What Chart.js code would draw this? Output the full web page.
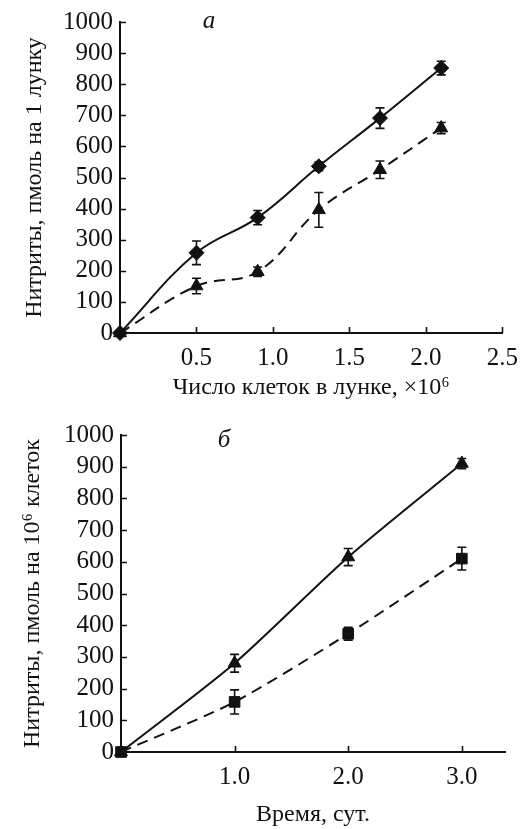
<!DOCTYPE html>
<html>
<head>
<meta charset="utf-8">
<script src="https://cdn.jsdelivr.net/npm/chart.js@4/dist/chart.umd.min.js"></script>
<style>
    html, body { margin: 0; padding: 0; background: #fff; }
    #wrap { position: relative; width: 528px; height: 829px; }
    canvas { position: absolute; left: 0; }
    #chartA { top: 0; }
    #chartB { top: 405px; }
</style>
</head>
<body>
<div id="wrap">
    <canvas id="chartA" width="528" height="405"></canvas>
    <canvas id="chartB" width="528" height="424"></canvas>
</div>
<script>
// panel a: nitrites per well vs number of cells
const cellsA = [0, 0.5, 0.9, 1.3, 1.7, 2.1];
const diamondA = [0, 258, 371, 536, 691, 852];
const diamondErrA = [0, 38, 23, 14, 33, 22];
const triangleA = [0, 151, 197, 396, 525, 659];
const triangleErrA = [0, 25, 15, 56, 28, 18];
const xTicksA = [0.5, 1.0, 1.5, 2.0, 2.5];

// panel b: nitrites per 10^6 cells vs time
const daysB = [0, 1, 2, 3];
const triangleB = [0, 280, 615, 910];
const triangleErrB = [0, 28, 27, 16];
const squareB = [0, 158, 373, 610];
const squareErrB = [0, 38, 20, 36];
const xTicksB = [1.0, 2.0, 3.0];

const yTicks = [0, 100, 200, 300, 400, 500, 600, 700, 800, 900, 1000];

const ink = '#111';
const serif = "'Liberation Serif', 'DejaVu Serif', serif";

function toPoints(xs, ys) {
    return xs.map((x, i) => ({ x: x, y: ys[i] }));
}

const errorBarsPlugin = {
    id: 'errorBars',
    beforeDatasetsDraw(chart) {
        const ctx = chart.ctx;
        const xs = chart.scales.x;
        const ys = chart.scales.y;
        ctx.save();
        ctx.strokeStyle = ink;
        ctx.lineWidth = 1.6;
        chart.data.datasets.forEach((ds) => {
            if (!ds.errors) {
                return;
            }
            ds.data.forEach((p, i) => {
                const e = ds.errors[i];
                if (!e) {
                    return;
                }
                const px = xs.getPixelForValue(p.x);
                const top = ys.getPixelForValue(p.y + e);
                const bot = ys.getPixelForValue(p.y - e);
                ctx.beginPath();
                ctx.moveTo(px, top);
                ctx.lineTo(px, bot);
                ctx.moveTo(px - 4.5, top);
                ctx.lineTo(px + 4.5, top);
                ctx.moveTo(px - 4.5, bot);
                ctx.lineTo(px + 4.5, bot);
                ctx.stroke();
            });
        });
        ctx.restore();
    }
};

const inwardTicksPlugin = {
    id: 'inwardTicks',
    afterDraw(chart) {
        const ctx = chart.ctx;
        const area = chart.chartArea;
        ctx.save();
        ctx.strokeStyle = ink;
        ctx.lineWidth = 1.6;
        ctx.beginPath();
        chart.scales.x.ticks.forEach((t) => {
            const px = Math.round(chart.scales.x.getPixelForValue(t.value)) + 0.5;
            ctx.moveTo(px, area.bottom);
            ctx.lineTo(px, area.bottom - 6);
        });
        chart.scales.y.ticks.forEach((t) => {
            const py = Math.round(chart.scales.y.getPixelForValue(t.value)) + 0.5;
            ctx.moveTo(area.left, py);
            ctx.lineTo(area.left + 6, py);
        });
        ctx.stroke();
        ctx.restore();
    }
};

const panelLetterPlugin = {
    id: 'panelLetter',
    afterDraw(chart, args, opts) {
        if (!opts.text) {
            return;
        }
        const ctx = chart.ctx;
        ctx.save();
        ctx.fillStyle = ink;
        ctx.font = 'italic 25px ' + serif;
        ctx.textAlign = 'center';
        ctx.textBaseline = 'alphabetic';
        ctx.fillText(opts.text, chart.chartArea.left + opts.dx, chart.chartArea.top + opts.dy);
        ctx.restore();
    }
};

function makeOptions(cfg) {
    return {
        responsive: false,
        animation: false,
        devicePixelRatio: 1,
        layout: { padding: cfg.padding },
        plugins: {
            legend: { display: false },
            tooltip: { enabled: false },
            panelLetter: cfg.letter
        },
        scales: {
            x: {
                type: 'linear',
                min: 0,
                max: cfg.xMax,
                afterBuildTicks: (s) => { s.ticks = cfg.xTicks.map((v) => ({ value: v })); },
                afterFit: (s) => { s.height = cfg.xHeight; },
                grid: { display: false, drawTicks: false },
                border: { display: true, color: ink, width: 2 },
                ticks: {
                    color: ink,
                    font: { family: serif, size: 25 },
                    padding: cfg.xTickPad,
                    autoSkip: false,
                    maxRotation: 0,
                    callback: (v) => Number(v).toFixed(1)
                },
                title: {
                    display: true,
                    text: cfg.xTitle,
                    color: ink,
                    font: { family: serif, size: 24 },
                    padding: { top: 0, bottom: cfg.xTitlePad }
                }
            },
            y: {
                type: 'linear',
                min: 0,
                max: 1000,
                afterBuildTicks: (s) => { s.ticks = yTicks.map((v) => ({ value: v })); },
                afterFit: (s) => { s.width = cfg.yWidth; },
                grid: { display: false, drawTicks: false },
                border: { display: true, color: ink, width: 2 },
                ticks: {
                    color: ink,
                    font: { family: serif, size: 25 },
                    padding: 7,
                    autoSkip: false,
                    callback: (v) => String(v)
                },
                title: {
                    display: true,
                    text: cfg.yTitle,
                    color: ink,
                    font: { family: serif, size: 24 },
                    padding: { top: cfg.yTitlePad, bottom: 0 }
                }
            }
        }
    };
}

function lineDataset(points, errors, style, radius, dashed, order, tension) {
    return {
        data: points,
        errors: errors,
        borderColor: ink,
        borderWidth: 2,
        borderDash: dashed ? [11, 7] : [],
        tension: tension,
        pointStyle: style,
        pointRadius: radius,
        pointBackgroundColor: ink,
        pointBorderColor: ink,
        pointBorderWidth: 1,
        clip: false,
        order: order,
        fill: false
    };
}

new Chart(document.getElementById('chartA').getContext('2d'), {
    type: 'line',
    data: {
        datasets: [
            lineDataset(toPoints(cellsA, triangleA), triangleErrA, 'triangle', 7.5, true, 0, 0.4),
            lineDataset(toPoints(cellsA, diamondA), diamondErrA, 'rectRot', 7.5, false, 1, 0.4)
        ]
    },
    options: makeOptions({
        padding: { top: 16, right: 23, left: 0, bottom: 0 },
        xMax: 2.5,
        xTicks: xTicksA,
        xHeight: 72,
        xTickPad: 10,
        xTitlePad: 3,
        xTitle: 'Число клеток в лунке, ×10⁶',
        yWidth: 120,
        yTitlePad: 20,
        yTitle: 'Нитриты, пмоль на 1 лунку',
        letter: { text: 'a', dx: 89, dy: 6 }
    }),
    plugins: [errorBarsPlugin, inwardTicksPlugin, panelLetterPlugin]
});

new Chart(document.getElementById('chartB').getContext('2d'), {
    type: 'line',
    data: {
        datasets: [
            lineDataset(toPoints(daysB, squareB), squareErrB, 'rect', 7.5, true, 0, 0.25),
            lineDataset(toPoints(daysB, triangleB), triangleErrB, 'triangle', 7.5, false, 1, 0.25)
        ]
    },
    options: makeOptions({
        padding: { top: 30, right: 23, left: 0, bottom: 0 },
        xMax: 3.38,
        xTicks: xTicksB,
        xHeight: 77,
        xTickPad: 10,
        xTitlePad: 0,
        xTitle: 'Время, сут.',
        yWidth: 121,
        yTitlePad: 18,
        yTitle: 'Нитриты, пмоль на 10⁶ клеток',
        letter: { text: 'б', dx: 103, dy: 12 }
    }),
    plugins: [errorBarsPlugin, inwardTicksPlugin, panelLetterPlugin]
});
</script>
</body>
</html>
